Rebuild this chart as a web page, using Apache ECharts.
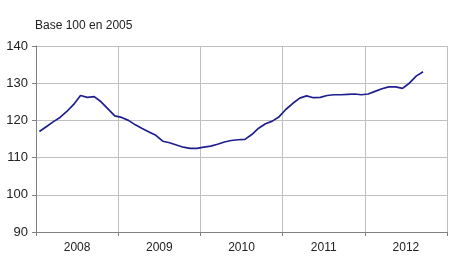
<!DOCTYPE html>
<html>
<head>
<meta charset="utf-8">
<script src="https://cdn.jsdelivr.net/npm/echarts@6/dist/echarts.min.js"></script>
<style>html,body{margin:0;padding:0;background:#fff}#c{width:450px;height:280px}</style>
</head>
<body>
<div id="c"></div>
<script>
var years = ['2008', '2009', '2010', '2011', '2012'];
var months = [];
years.forEach(function (y) { for (var m = 1; m <= 12; m++) months.push(y + '-' + (m < 10 ? '0' : '') + m); });
var values2008 = [117.0, 118.3, 119.6, 120.8, 122.4, 124.3, 126.7, 126.2, 126.4, 125.0, 123.1, 121.2];
var values2009 = [120.8, 120.0, 118.8, 117.8, 116.9, 116.0, 114.4, 114.0, 113.4, 112.8, 112.5, 112.5];
var values2010 = [112.8, 113.1, 113.6, 114.2, 114.6, 114.8, 114.9, 116.2, 117.9, 119.1, 119.8, 121.0];
var values2011 = [123.0, 124.6, 126.0, 126.6, 126.1, 126.2, 126.7, 126.9, 126.9, 127.0, 127.1, 126.9];
var values2012 = [127.1, 127.8, 128.5, 129.0, 129.0, 128.6, 130.0, 131.9, 133.1];
var yTicks = [90, 100, 110, 120, 130, 140];
var titleText = 'Base 100 en 2005';

var series = [].concat(values2008, values2009, values2010, values2011, values2012);
var font = 'Liberation Sans, Arial, sans-serif';
var chart = echarts.init(document.getElementById('c'), null, { renderer: 'canvas' });
chart.setOption({
  animation: false,
  title: { text: titleText, left: 35, top: 20, padding: 0, textStyle: { fontFamily: font, fontSize: 12, fontWeight: 'normal', color: '#222' } },
  grid: { left: 36, right: 3, top: 46, bottom: 48 },
  xAxis: [{
    type: 'category', data: months, boundaryGap: true,
    axisLine: { lineStyle: { color: '#808080' } },
    axisTick: { show: true, interval: function (i) { return i % 12 === 0; }, length: 4, lineStyle: { color: '#808080' } },
    axisLabel: { show: false },
    splitLine: { show: true, interval: function (i) { return i % 12 === 0; }, lineStyle: { color: '#c0c0c0', width: 1 } }
  }, {
    type: 'category', data: years, boundaryGap: true, position: 'bottom',
    axisLine: { show: false }, axisTick: { show: false }, splitLine: { show: false },
    axisLabel: { fontFamily: font, fontSize: 12, color: '#222', margin: 10 }
  }],
  yAxis: {
    type: 'value', min: yTicks[0], max: yTicks[yTicks.length - 1], interval: 10,
    axisLine: { show: true, lineStyle: { color: '#808080' } },
    axisTick: { show: true, length: 4, lineStyle: { color: '#808080' } },
    axisLabel: { fontFamily: font, fontSize: 13, color: '#222', margin: 8 },
    splitLine: { lineStyle: { color: '#c0c0c0', width: 1 } }
  },
  series: [{
    type: 'line', data: series, xAxisIndex: 0, symbol: 'none',
    lineStyle: { color: '#1f1f8f', width: 1.7 }
  }]
});
</script>
</body>
</html>
